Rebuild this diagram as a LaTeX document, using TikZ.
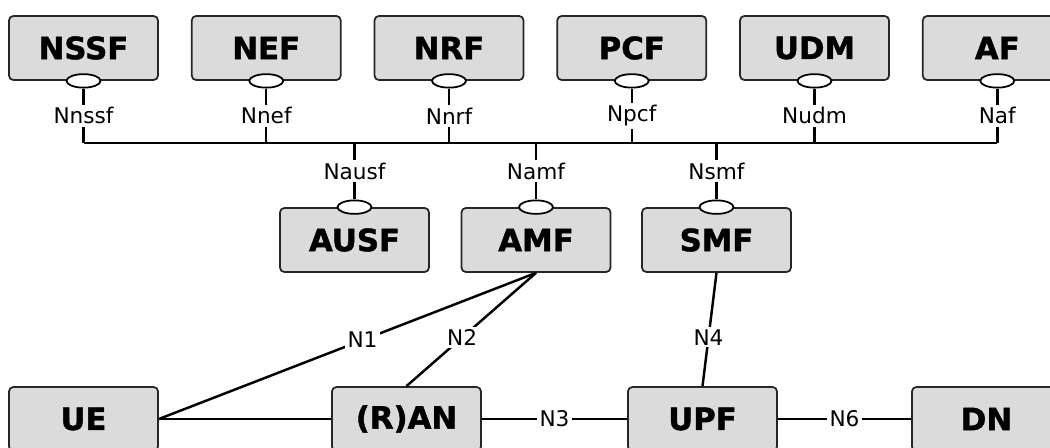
\documentclass[tikz,border=0pt]{standalone}
\usepackage{fontspec}
\setmainfont{DejaVu Sans}
\newfontfamily\nffont[FakeBold=1.4]{DejaVu Sans Bold}
\usepackage{tikz}
\usetikzlibrary{positioning,shapes.geometric}

\tikzset{
  nf/.style={draw=black!85, fill=black!14, line width=1pt, rounded corners=2.5pt,
    minimum width=2.98cm, minimum height=1.28cm, inner sep=0pt,
    font=\nffont\fontsize{17.5}{18}\selectfont},
  iface/.style={ellipse, draw, fill=white, line width=1pt,
    minimum width=0.68cm, minimum height=0.27cm, inner sep=0pt},
  lbl/.style={fill=white, inner sep=1.2pt, font=\fontsize{12.3}{13}\selectfont},
  link/.style={line width=1.4pt}
}

\begin{document}
\begin{tikzpicture}
  \clip (0,0) rectangle (21,-8.94);
  \fill[white] (0,0) rectangle (21,-8.94);

  % Service based functions (top row)
  \node[nf]                       (nssf) at (1.67,-0.96) {NSSF};
  \node[nf, right=0.64cm of nssf] (nef)  {NEF};
  \node[nf, right=0.64cm of nef]  (nrf)  {NRF};
  \node[nf, right=0.64cm of nrf]  (pcf)  {PCF};
  \node[nf, right=0.64cm of pcf]  (udm)  {UDM};
  \node[nf, right=0.64cm of udm]  (af)   {AF};

  % Middle row
  \node[nf] (ausf) at (7.09,-4.8)  {AUSF};
  \node[nf] (amf)  at (10.72,-4.8) {AMF};
  \node[nf] (smf)  at (14.33,-4.8) {SMF};

  % User plane (bottom row)
  \node[nf] (ue)  at (1.67,-8.38)  {UE};
  \node[nf] (ran) at (8.13,-8.38)  {(R)AN};
  \node[nf] (upf) at (14.05,-8.38) {UPF};
  \node[nf] (dn)  at (19.73,-8.38) {DN};

  % Service interfaces on the bus
  \foreach \n/\t in {nssf/Nnssf, nef/Nnef, nrf/Nnrf, pcf/Npcf, udm/Nudm, af/Naf} {
    \node[iface] (\n-i) at (\n.south) {};
    \node[lbl] (\n-l) at ([yshift=-0.7cm]\n.south) {\t};
    \coordinate (\n-b) at (\n.south |- 0,-2.86);
    \draw[link] (\n-i) -- (\n-l) -- (\n-b);
  }
  \foreach \n/\t in {ausf/Nausf, amf/Namf, smf/Nsmf} {
    \node[iface] (\n-i) at (\n.north) {};
    \node[lbl] (\n-l) at ([yshift=0.72cm]\n.north) {\t};
    \coordinate (\n-b) at (\n.north |- 0,-2.86);
    \draw[link] (\n-b) -- (\n-l) -- (\n-i);
  }
  \draw[link] (nssf-b) -- (af-b);

  % Reference points
  \draw[link] (ue.east) -- node[lbl, pos=0.54] {N1} (amf.south);
  \draw[link] (ran.north) -- node[lbl, pos=0.43] {N2} (amf.south);
  \draw[link] (smf.south) -- node[lbl, pos=0.57] {N4} (upf.north);
  \draw[link] (ue) -- (ran);
  \draw[link] (ran) -- node[lbl] {N3} (upf);
  \draw[link] (upf) -- node[lbl] {N6} (dn);

\end{tikzpicture}
\end{document}
